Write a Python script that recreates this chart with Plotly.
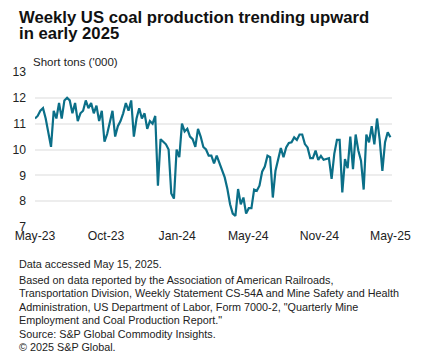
import plotly.graph_objects as go

values = [
    11.2, 11.3, 11.5, 11.6, 11.2, 10.6, 10.1, 11.5, 11.2, 11.8,
    11.2, 11.9, 12.0, 11.9, 11.4, 11.8, 11.1, 11.4, 11.5, 11.9,
    11.6, 11.8, 11.4, 11.7, 11.1, 11.5, 10.3, 10.6, 11.1, 11.5,
    10.5, 10.9, 11.1, 11.4, 11.8, 11.5, 11.9, 10.5, 11.2, 11.6,
    11.2, 11.4, 10.8, 11.1, 11.0, 11.3, 8.6, 10.4, 10.3, 10.2,
    10.0, 8.3, 8.1, 10.0, 9.7, 11.0, 10.7, 10.8, 10.5, 10.4,
    10.1, 10.8, 10.5, 10.1,
    10.0, 9.76, 9.76, 9.46, 9.76, 9.5, 9.18, 8.92, 8.47, 7.88,
    7.52, 7.43, 8.47, 7.88, 8.14, 7.52, 7.73, 7.73, 8.45, 8.4,
    8.6, 9.14, 9.34, 9.76, 9.7, 8.14, 9.18, 9.63, 10.06, 9.7,
    10.08, 10.25, 10.28, 10.47, 10.37, 10.58, 10.58, 10.21, 10.08, 9.67,
    9.67, 9.96, 9.6, 9.75, 9.6, 9.63, 9.66, 8.86, 9.83, 10.37,
    10.37, 8.34, 9.63, 9.28, 10.5, 9.24, 10.58, 9.96, 9.57, 8.45,
    10.58, 10.28, 10.9, 10.2, 11.2, 10.37, 9.17, 10.28, 10.67, 10.47,
]
tick_labels = ["May-23", "Oct-23", "Jan-24", "May-24", "Nov-24", "May-25"]
y_ticks = [7, 8, 9, 10, 11, 12, 13]

title_lines = ["Weekly US coal production trending upward", "in early 2025"]
unit_label = "Short tons ('000)"
footer_lines = [
    "Data accessed May 15, 2025.",
    "Based on data reported by the Association of American Railroads,",
    "Transportation Division, Weekly Statement CS-54A and Mine Safety and Health",
    "Administration, US Department of Labor, Form 7000-2, \"Quarterly Mine",
    "Employment and Coal Production Report.\"",
    "Source: S&P Global Commodity Insights.",
    "\u00a9 2025 S&P Global.",
]

W, H = 425, 358
L, R, T, B = 25, 33, 72, 131
pw, ph = W - L - R, H - T - B

def xp(px):
    return (px - L) / pw

def yp(py):
    return (H - B - py) / ph

n = len(values)
x = list(range(n))
tickvals = [i * (n - 1) / (len(tick_labels) - 1) for i in range(len(tick_labels))]

FONT = "Liberation Sans"
fig = go.Figure()
fig.add_trace(go.Scatter(x=x, y=values, mode="lines",
                         line=dict(color="#0b6f88", width=2.2),
                         hoverinfo="skip", showlegend=False))

ann = []
ann.append(dict(text="<b>%s</b>" % title_lines[0], x=xp(6), y=yp(17)))
ann.append(dict(text="<b>%s</b>" % title_lines[1], x=xp(6), y=yp(33.5)))
for a in ann:
    a["font"] = dict(size=16.7, color="#111111", family=FONT)
ann.append(dict(text=unit_label, x=xp(21), y=yp(62),
                font=dict(size=11.5, color="#222222", family=FONT)))
footer_y = [263.5, 280, 293.4, 306.8, 320.2, 333.6, 347]
for line, fy in zip(footer_lines, footer_y):
    ann.append(dict(text=line, x=xp(6), y=yp(fy),
                    font=dict(size=10.8, color="#222222", family=FONT)))
for a in ann:
    a.update(xref="paper", yref="paper", xanchor="left", yanchor="middle",
             showarrow=False, align="left")

fig.update_layout(
    width=W, height=H,
    margin=dict(l=L, r=R, t=T, b=B),
    paper_bgcolor="white", plot_bgcolor="white",
    font=dict(family=FONT, size=12, color="#222222"),
    annotations=ann,
    xaxis=dict(range=[0, n - 1 + 0.6], tickmode="array", tickvals=tickvals,
               ticktext=tick_labels, showgrid=False, zeroline=False,
               showline=False, ticks="", tickfont=dict(size=12.2)),
    yaxis=dict(range=[7, 13], tickmode="array", tickvals=y_ticks,
               showgrid=True, gridcolor="#ededed", gridwidth=2,
               zeroline=False, showline=False, ticks="", ticklabelstandoff=8,
               tickfont=dict(size=12.2)),
)
fig.write_html("out.html", config={"displayModeBar": False},
               post_script="document.body.style.margin='0';document.body.style.overflow='hidden';")
